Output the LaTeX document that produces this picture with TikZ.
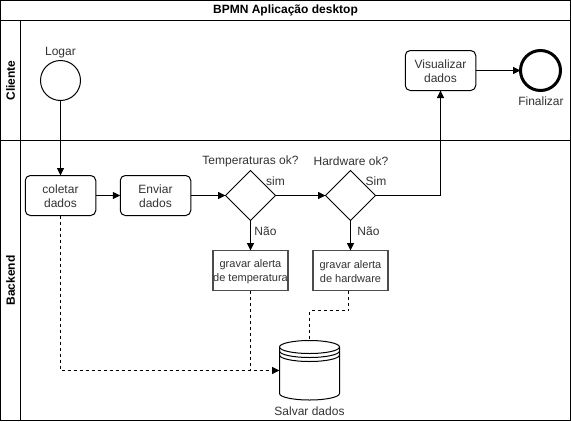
\documentclass[tikz,border=0pt]{standalone}
\usepackage{fontspec}
\setmainfont{Liberation Sans}
\usetikzlibrary{arrows.meta,shapes.geometric,positioning}
\newcommand{\dnst}{\rule{0pt}{10.7pt}}
\tikzset{
  x=1pt,y=-1pt,
  txt/.style={font=\fontsize{12}{14}\selectfont,text=black!80,inner sep=0pt,align=center},
  ttl/.style={font=\fontsize{12}{14}\selectfont\bfseries,text=black,inner sep=0pt,align=center},
  small/.style={font=\fontsize{11}{14}\selectfont,text=black!80,inner sep=0pt,align=center},
  task/.style={draw,rounded corners=5pt,minimum width=70.5pt,minimum height=40pt,inner sep=0pt,outer sep=0pt,line width=1pt,txt},
  alerta/.style={draw=black!70,minimum width=75pt,minimum height=40pt,inner sep=0pt,outer sep=0pt,line width=1.3pt,small},
  gate/.style={draw,shape=diamond,minimum width=50pt,minimum height=50pt,inner sep=0pt,outer sep=0pt,line width=1pt},
  startev/.style={draw,circle,minimum size=40pt,inner sep=0pt,outer sep=0pt,line width=1pt},
  endev/.style={draw,circle,minimum size=40pt,inner sep=0pt,outer sep=0pt,line width=3pt},
  flow/.style={line width=1pt,-{Triangle[length=7.5pt,width=7pt]}},
  msg/.style={flow,dash pattern=on 3pt off 3pt},
  msgline/.style={line width=1pt,dash pattern=on 3pt off 3pt},
  lane/.style={line width=1pt}
}
\begin{document}
\begin{tikzpicture}
\useasboundingbox (0,0) rectangle (571,421);
\fill[white] (0,0) rectangle (571,421);
% pool and lanes
\draw[lane,line width=1.2pt] (0.5,0.5) rectangle (570.5,420.5);
\draw[lane] (0.5,20.5) -- (570.5,20.5);
\draw[lane] (0.5,140.5) -- (570.5,140.5);
\draw[lane] (20.5,20.5) -- (20.5,420.5);
\node[ttl] (titulo) at (285.5,10.5) {BPMN Aplicação desktop};
\node[ttl,rotate=90] (cliente) at (10.5,80.5) {Cliente};
\node[ttl,rotate=90] (backend) at (10.5,280.5) {Backend};
% events and tasks
\node[startev] (logar) at (60.5,80.5) {};
\node[txt,anchor=south] (logarlbl) at (60.5,58) {Logar};
\node[task] (coletar) at (60.5,195.5) {\dnst coletar\\dados};
\node[task] (enviar) at (155.5,195.5) {\dnst Enviar\\dados};
\node[gate] (gtemp) at (250.5,195.5) {};
\node[gate] (ghw) at (350.5,195.5) {};
\node[task] (visual) at (440.5,70.5) {\dnst Visualizar\\dados};
\node[endev] (fim) at (540.5,70.5) {};
\node[txt] (fimlbl) at (541,101.5) {Finalizar};
\node[alerta] (atemp) at (250.5,270.5) {\dnst gravar alerta\\de temperatura};
\node[alerta] (ahw) at (350.5,270.5) {\dnst gravar alerta\\de hardware};
% data store
\node[minimum width=60pt,minimum height=60pt,inner sep=0pt,outer sep=0pt] (db) at (309.5,370.5) {};
\draw[line width=1pt,fill=white] (279.5,347) arc[x radius=30,y radius=6.5,start angle=180,end angle=360] -- (339.5,393.5) arc[x radius=30,y radius=6.5,start angle=0,end angle=180] -- cycle;
\draw[line width=1pt] (279.5,347) arc[x radius=30,y radius=6.5,start angle=180,end angle=0];
\draw[line width=1pt] (279.5,351) arc[x radius=30,y radius=6.5,start angle=180,end angle=0];
\draw[line width=1pt] (279.5,355) arc[x radius=30,y radius=6.5,start angle=180,end angle=0];
\node[txt] (dblbl) at (309.5,411) {Salvar dados};
% labels
\node[txt] (q1) at (250.5,161) {Temperaturas ok?};
\node[txt] (q2) at (351,161) {Hardware ok?};
\node[txt] (s1) at (275.5,181.5) {sim};
\node[txt] (s2) at (376,181.5) {Sim};
\node[txt] (n1) at (265.5,231) {Não};
\node[txt] (n2) at (368.5,231) {Não};
% flows
\draw[flow] (logar) -- (coletar);
\draw[flow] (coletar) -- (enviar);
\draw[flow] (enviar) -- (gtemp);
\draw[flow] (gtemp) -- (ghw);
\draw[flow] (ghw.east) -| (visual.south);
\draw[flow] (visual) -- (fim);
\draw[flow] (gtemp) -- (atemp);
\draw[flow] (ghw) -- (ahw);
% dashed
\coordinate (junc) at (atemp.south |- db.west);
\draw[msg] (coletar.south) |- (db.west);
\draw[msgline] (atemp.south) -- (junc);
\coordinate (hwout) at (348.5,290.5);
\draw[msgline] (hwout) -- (348.5,310.5) -| (db.north);
\end{tikzpicture}
\end{document}
